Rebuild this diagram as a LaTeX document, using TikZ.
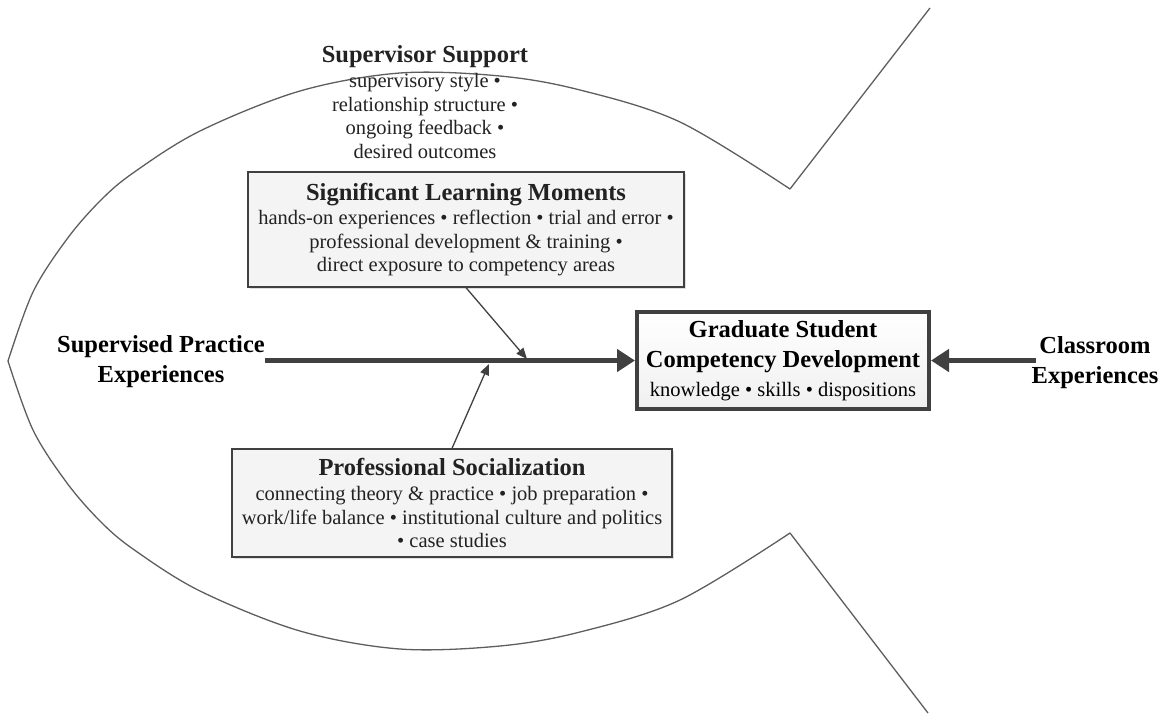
\documentclass[tikz,border=0pt]{standalone}
\usepackage{fontspec}
\setmainfont{Liberation Serif}
\usetikzlibrary{arrows.meta,shadows}
\definecolor{outl}{HTML}{5E5E5E}
\definecolor{spinec}{HTML}{404040}
\definecolor{txt}{HTML}{222222}
\newcommand{\ttlfont}{\bfseries\fontsize{24.5}{30}\selectfont}
\newcommand{\bdyfont}{\fontsize{20.5}{23.5}\selectfont}
\begin{document}
\begin{tikzpicture}[x=1pt,y=-1pt,
  titletext/.style={font=\ttlfont, align=center, inner sep=0pt, text=black},
  bodytext/.style={font=\bdyfont, align=center, inner sep=0pt, text=txt},
  factorbox/.style={draw=spinec, line width=1.3pt, fill=gray!9, align=center,
    font=\bdyfont, text=txt, inner sep=0pt,
    drop shadow={shadow xshift=2pt, shadow yshift=-2pt, opacity=0.25}},
  mainbox/.style={draw=spinec, line width=4pt, top color=white, bottom color=gray!12,
    align=center, font=\ttlfont, inner sep=0pt,
    drop shadow={shadow xshift=2pt, shadow yshift=-2pt, opacity=0.25}},
  fishline/.style={draw=outl, line width=1.3pt, line join=round},
  spinearrow/.style={draw=spinec, line width=5pt, -{Triangle[length=18pt,width=22pt]}},
  feedarrow/.style={draw=spinec, line width=1.3pt, -{Triangle[length=11pt,width=9pt]}}]

\useasboundingbox (0,0) rectangle (1168,713);

% fish outline
\draw[fishline] plot[smooth, tension=0.55] coordinates {(8,361) (33,292) (67,239) (100,201) (133,173) (200,131) (300,91) (400,73) (500,76) (580,90) (680,122) (790,189)} -- (930,8);
\draw[fishline] plot[smooth, tension=0.55] coordinates {(8,361) (33,430) (67,483) (100,521) (133,549) (200,591) (300,631) (400,649) (500,646) (580,632) (680,600) (790,533)} -- (928,713);

% text nodes
\node[bodytext, anchor=north] (sup) at (425,45.5)
  {{\ttlfont Supervisor Support}\\[1.5pt]
   supervisory style •\\
   relationship structure •\\
   ongoing feedback •\\
   desired outcomes};

\node[factorbox, minimum width=436pt, minimum height=115pt] (sig) at (466,229.5)
  {{\ttlfont Significant Learning Moments}\\[1pt]
   hands-on experiences • reflection • trial and error •\\
   professional development \& training •\\
   direct exposure to competency areas};

\node[factorbox, minimum width=440pt, minimum height=108pt] (prof) at (452,503)
  {{\ttlfont Professional Socialization}\\[1.5pt]
   connecting theory \& practice • job preparation •\\
   work/life balance • institutional culture and politics\\
   • case studies};

\node[mainbox, minimum width=292pt, minimum height=97pt] (grad) at (783,360.5)
  {Graduate Student\\
   Competency Development\\[-1pt]
   {\bdyfont\mdseries knowledge • skills • dispositions}};

\node[titletext, anchor=north] (spe) at (161,335.5) {Supervised Practice\\Experiences};
\node[titletext, anchor=north] (cls) at (1095,336.5) {Classroom\\Experiences};

\coordinate (j1) at (527,359);
\coordinate (j2) at (489,364);

% connectors
\draw[spinearrow] (spe.east |- grad.west) -- (grad.west);
\draw[spinearrow, shorten <=-4pt] (cls.west |- grad.east) -- (grad.east);
\draw[feedarrow] (sig.south) -- (j1);
\draw[feedarrow] (prof.north) -- (j2);
\end{tikzpicture}
\end{document}
